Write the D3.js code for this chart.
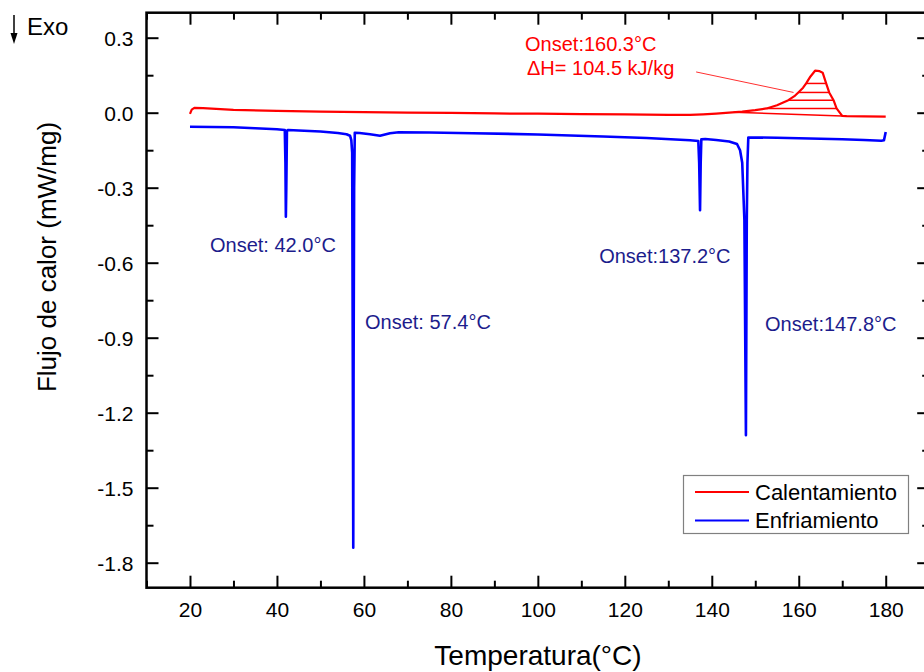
<!DOCTYPE html>
<html><head><meta charset="utf-8">
<script src="https://cdn.jsdelivr.net/npm/d3@7"></script>
<style>
body{margin:0;background:#fff}
svg{display:block}
text{font-family:"Liberation Sans",Arial,sans-serif}
</style>
</head><body>
<svg id="c" width="924" height="672"></svg>
<script>
// ---- data ----
const heatT = [20,20.4,21,23,26,30,40,50,60,70,80,90,100,110,120,130,135,138,141,144,147,148,150,152.6,155,157.6,159,159.9,161,161.7,162.7,163.75,164.8,165.5,166.3,167.0,168.0,168.7,170.0,171,175,180];
const heatV = [-0.005,0.012,0.019,0.018,0.015,0.011,0.007,0.004,0.002,0.0,-0.001,-0.003,-0.004,-0.006,-0.007,-0.009,-0.009,-0.007,-0.004,0.0,0.004,0.006,0.01,0.017,0.03,0.05,0.066,0.081,0.1,0.117,0.145,0.168,0.166,0.16,0.117,0.081,0.05,0.017,-0.013,-0.014,-0.015,-0.016];

const coolT = [20,25,30,35,40,41.8,41.95,42.05,42.15,42.3,42.6,45,50,54,56,56.8,57.1,57.3,57.45,57.55,57.62,57.75,57.9,59,61.4,63.7,66,68,75,85,100,115,125,135,136.9,137.1,137.3,137.45,137.6,138.5,141,144,145.8,146.5,147.0,147.5,147.85,148.05,148.2,148.4,155,160,165,170,175,179,179.6,180];
const coolV = [-0.056,-0.057,-0.058,-0.062,-0.066,-0.069,-0.2,-0.416,-0.3,-0.072,-0.069,-0.071,-0.075,-0.081,-0.086,-0.092,-0.11,-0.16,-1.06,-1.74,-1.06,-0.3,-0.08,-0.081,-0.086,-0.092,-0.082,-0.078,-0.079,-0.082,-0.087,-0.095,-0.101,-0.11,-0.113,-0.2,-0.39,-0.2,-0.106,-0.105,-0.109,-0.115,-0.125,-0.15,-0.2,-0.43,-1.29,-0.43,-0.2,-0.099,-0.1,-0.102,-0.104,-0.106,-0.109,-0.112,-0.11,-0.077];

const seriesNames = ["Calentamiento","Enfriamiento"];
const seriesColors = ["#ff0000","#0000ff"];

const xTickValues = [20,40,60,80,100,120,140,160,180];
const xMinorValues = [10,30,50,70,90,110,130,150,170,190];
const yTickValues = [0.3,0.0,-0.3,-0.6,-0.9,-1.2,-1.5,-1.8];
const yMinorValues = [0.15,-0.15,-0.45,-0.75,-1.05,-1.35,-1.65];

// integration hatch levels (mW/mg) and baseline of the melting peak
const hatchLevels = [0.117,0.081,0.05,0.017];
const peakBaseline = [[145,0.002],[170,-0.013]];
const leaderLine = [[136.4,0.163],[158.8,0.081]];

// annotations: [T, value, text]
const heatLabels = [[97.05,0.247,"Onset:160.3°C"],[97.5,0.151,"\u0394H= 104.5 kJ/kg"]];
const coolLabels = [[24.6,-0.557,"Onset: 42.0°C"],[60.25,-0.865,"Onset: 57.4°C"],[114.1,-0.601,"Onset:137.2°C"],[152.25,-0.873,"Onset:147.8°C"]];

// ---- chart ----
const svg = d3.select("#c");
const x = d3.scaleLinear().domain([10,190]).range([146.5,929.2]);
const y = d3.scaleLinear().domain([-1.9,0.4]).range([587.7,12.7]);
const fmt = v => v.toFixed(1);

const line = d3.line().x(d=>x(d[0])).y(d=>y(d[1]));
const heat = heatT.map((t,i)=>[t,heatV[i]]);
const cool = coolT.map((t,i)=>[t,coolV[i]]);

// hatch lines
function crossings(level){
  const pts=[];
  for(let i=1;i<heat.length;i++){
    const a=heat[i-1], b=heat[i];
    if(a[0]<140) continue;
    if((a[1]-level)*(b[1]-level)<=0 && a[1]!==b[1]){
      const t=a[0]+(level-a[1])/(b[1]-a[1])*(b[0]-a[0]);
      pts.push(t);
    }
  }
  return pts;
}
const hatchG = svg.append("g").attr("stroke","#ff0000").attr("stroke-width",1.5);
hatchLevels.forEach(l=>{
  const c = crossings(l);
  if(c.length>=2){
    hatchG.append("line").attr("x1",x(c[0])).attr("x2",x(c[c.length-1])).attr("y1",y(l)).attr("y2",y(l));
  }
});
hatchG.append("path").attr("fill","none").attr("d",line(peakBaseline));
svg.append("path").attr("fill","none").attr("stroke","#ff3030").attr("stroke-width",1).attr("d",line(leaderLine));

svg.append("path").attr("fill","none").attr("stroke",seriesColors[0]).attr("stroke-width",2.2)
  .attr("stroke-linejoin","round").attr("d",line(heat));
svg.append("path").attr("fill","none").attr("stroke",seriesColors[1]).attr("stroke-width",2.6)
  .attr("stroke-linejoin","round").attr("d",line(cool));

// axes
const axG = svg.append("g");
const major = 12, minor = 7;
const xb = d3.axisBottom(x).tickValues(xTickValues).tickSizeInner(-major).tickSizeOuter(0).tickFormat(d=>d);
const gxb = axG.append("g").attr("transform",`translate(0,${y(-1.9)})`).call(xb);
gxb.selectAll("text").attr("dy",0).attr("y",29).style("font-size","21px").attr("fill","#000");
const xbm = d3.axisBottom(x).tickValues(xMinorValues).tickSizeInner(-minor).tickSizeOuter(0).tickFormat("");
axG.append("g").attr("transform",`translate(0,${y(-1.9)})`).call(xbm);
const xt = d3.axisTop(x).tickValues(xTickValues).tickSizeInner(-major).tickSizeOuter(0).tickFormat("");
axG.append("g").attr("transform",`translate(0,${y(0.4)})`).call(xt);
const xtm = d3.axisTop(x).tickValues(xMinorValues).tickSizeInner(-minor).tickSizeOuter(0).tickFormat("");
axG.append("g").attr("transform",`translate(0,${y(0.4)})`).call(xtm);

const yl = d3.axisLeft(y).tickValues(yTickValues).tickSizeInner(-major).tickSizeOuter(0).tickFormat(fmt);
const gyl = axG.append("g").attr("transform",`translate(${x(10)},0)`).call(yl);
gyl.selectAll("text").attr("x",-13).attr("dy","0.35em").style("font-size","21px").attr("fill","#000");
const ylm = d3.axisLeft(y).tickValues(yMinorValues).tickSizeInner(-minor).tickSizeOuter(0).tickFormat("");
axG.append("g").attr("transform",`translate(${x(10)},0)`).call(ylm);
const yr = d3.axisRight(y).tickValues(yTickValues).tickSizeInner(-major).tickSizeOuter(0).tickFormat("");
axG.append("g").attr("transform",`translate(${x(190)},0)`).call(yr);
const yrm = d3.axisRight(y).tickValues(yMinorValues).tickSizeInner(-minor).tickSizeOuter(0).tickFormat("");
axG.append("g").attr("transform",`translate(${x(190)},0)`).call(yrm);

axG.selectAll(".domain").remove();
axG.selectAll(".tick line").attr("stroke","#000").attr("stroke-width",2);
// frame
svg.append("rect").attr("x",x(10)).attr("y",y(0.4)).attr("width",x(190)-x(10)).attr("height",y(-1.9)-y(0.4))
  .attr("fill","none").attr("stroke","#000").attr("stroke-width",2.5);

// axis titles
svg.append("text").attr("x",538).attr("y",665).attr("text-anchor","middle").style("font-size","28px").text("Temperatura(°C)");
svg.append("text").attr("transform","translate(56,257) rotate(-90)").attr("text-anchor","middle").style("font-size","26px").text("Flujo de calor (mW/mg)");

// Exo arrow
svg.append("line").attr("x1",14).attr("x2",14).attr("y1",15).attr("y2",40).attr("stroke","#000").attr("stroke-width",1.5);
svg.append("path").attr("d","M10.5,33 L14,44 L17.5,33 Z").attr("fill","#000");
svg.append("text").attr("x",27).attr("y",35).style("font-size","24px").text("Exo");

// annotations
svg.selectAll(".hl").data(heatLabels).join("text").attr("x",d=>x(d[0])).attr("y",d=>y(d[1]))
  .style("font-size","20px").attr("fill","#ff0000").text(d=>d[2]);
svg.selectAll(".cl").data(coolLabels).join("text").attr("x",d=>x(d[0])).attr("y",d=>y(d[1]))
  .style("font-size","20px").attr("fill","#1c1c8c").text(d=>d[2]);

// legend
const lg = svg.append("g");
lg.append("rect").attr("x",683.5).attr("y",475.5).attr("width",225).attr("height",58).attr("fill","#fff").attr("stroke","#808080").attr("stroke-width",1.2);
seriesNames.forEach((n,i)=>{
  const yy = 492 + i*28.5;
  lg.append("line").attr("x1",695).attr("x2",749).attr("y1",yy).attr("y2",yy).attr("stroke",seriesColors[i]).attr("stroke-width",2);
  lg.append("text").attr("x",755).attr("y",yy).attr("dy","0.36em").style("font-size","22px").text(n);
});
</script>
</body></html>
